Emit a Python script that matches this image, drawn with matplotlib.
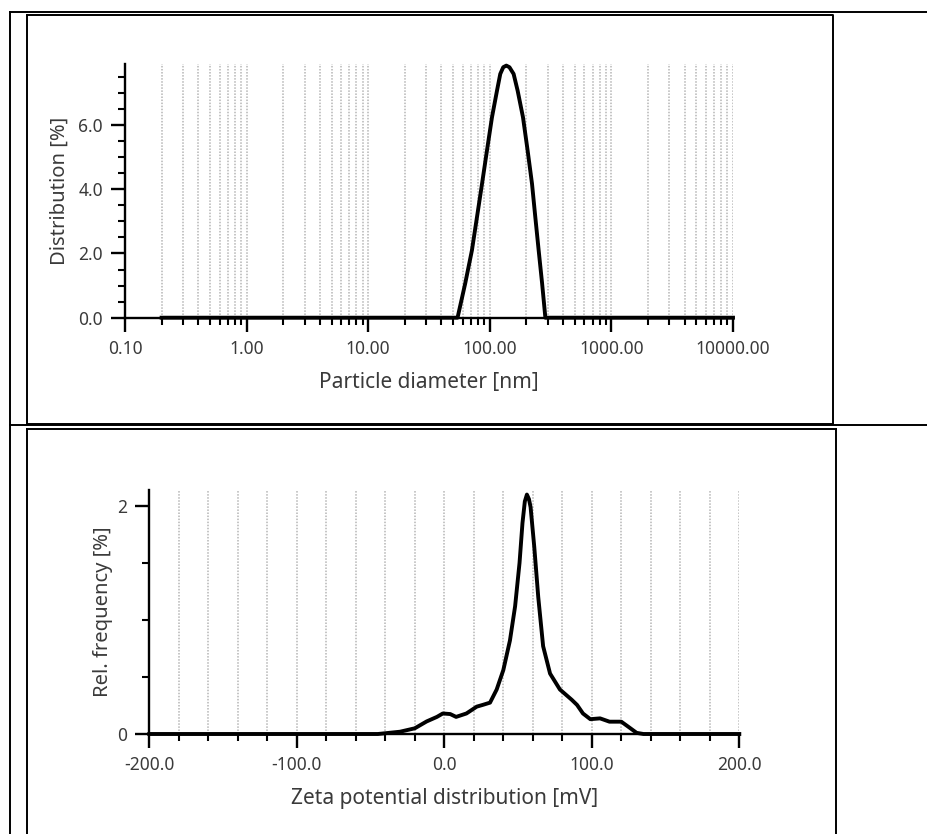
import matplotlib.pyplot as plt
from matplotlib.lines import Line2D
from matplotlib.ticker import FixedLocator, MultipleLocator, FixedFormatter, NullFormatter

plt.rcParams['font.family'] = ['Noto Sans', 'DejaVu Sans']

# particle size distribution
size_nm = [0.2, 54.3, 62.8, 71.3, 78.5, 86.3, 94.8, 104.2, 114.6, 121.9, 129.0,
           136.7, 145.0, 157.0, 169.4, 187.5, 204.6, 222.4, 236.6, 252.2,
           269.2, 286.4, 10000]
distribution = [0, 0, 1.07, 2.10, 3.14, 4.17, 5.21, 6.24, 7.07, 7.59, 7.80,
                7.85, 7.80, 7.59, 7.07, 6.24, 5.21, 4.17, 3.14, 2.10, 1.07, 0, 0]

size_ticks = [0.1, 1, 10, 100, 1000, 10000]
size_labels = ['0.10', '1.00', '10.00', '100.00', '1000.00', '10000.00']
dist_ticks = [0, 2, 4, 6]
dist_labels = ['0.0', '2.0', '4.0', '6.0']

# zeta potential distribution
zeta_mv = [-200, -45, -30, -20, -12, -5, -1, 4, 8, 15, 22, 26, 31, 35.5, 40, 44.5,
           48, 51, 53, 54.6, 56, 57.4, 58.5, 61, 63.7, 67, 71.7, 78.4, 86.4, 90,
           94, 99, 105.6, 112, 120, 124.7, 130.4, 135, 200]
rel_freq = [0, 0, 0.02, 0.05, 0.11, 0.15, 0.18, 0.175, 0.15, 0.18, 0.24, 0.255,
            0.275, 0.39, 0.56, 0.82, 1.12, 1.50, 1.85, 2.04, 2.10, 2.06, 1.99,
            1.64, 1.20, 0.77, 0.53, 0.39, 0.30, 0.255, 0.18, 0.13, 0.137, 0.108,
            0.108, 0.064, 0.01, 0, 0]

zeta_ticks = [-200, -100, 0, 100, 200]
zeta_labels = ['-200.0', '-100.0', '0.0', '100.0', '200.0']
freq_ticks = [0, 2]
freq_labels = ['0', '2']

W, H = 927, 834
fig = plt.figure(figsize=(W / 100, H / 100), dpi=100)
txt = '#3a3a3a'


def px(x0, y0, x1, y1):
    # pixel box (top-left origin) -> figure fraction
    return [x0 / W, 1 - y1 / H, (x1 - x0) / W, (y1 - y0) / H]


def fline(xs, ys, lw=1.4):
    fig.add_artist(Line2D([x / W for x in xs], [1 - y / H for y in ys],
                          color='black', lw=lw, transform=fig.transFigure))


# table borders
fline([10, 927], [12, 12])
fline([10, 10], [12, 834])
fline([10, 927], [425, 425])
fline([27, 833, 833, 27, 27], [15, 15, 424, 424, 15])
fline([836, 836], [834, 429])
fline([27, 836], [429, 429])
fline([27, 27], [429, 834])


def style(ax):
    for s in ['top', 'right']:
        ax.spines[s].set_visible(False)
    for s in ['left', 'bottom']:
        ax.spines[s].set_linewidth(1.7)
        ax.spines[s].set_color('black')
    ax.tick_params(which='major', length=10, width=1.7, color='black',
                   labelsize=12.5, labelcolor=txt, pad=6)
    ax.tick_params(which='minor', length=5, width=1.5, color='black')
    ax.grid(True, which='both', axis='x', color='#b5b5b5', lw=1.1,
            linestyle=(0, (1, 1)))
    ax.set_axisbelow(True)


# top chart
ax1 = fig.add_axes(px(125, 64, 733, 317.7))
ax1.plot(size_nm, distribution, color='black', lw=2.8, clip_on=False,
         zorder=5, solid_joinstyle='round')
ax1.set_xscale('log')
ax1.set_xlim(0.1, 10000)
ax1.set_ylim(0, 7.9)
ax1.xaxis.set_major_locator(FixedLocator(size_ticks))
ax1.xaxis.set_major_formatter(FixedFormatter(size_labels))
ax1.xaxis.set_minor_locator(FixedLocator(
    [m * d for d in [0.1, 1, 10, 100, 1000] for m in range(2, 10)]))
ax1.xaxis.set_minor_formatter(NullFormatter())
ax1.yaxis.set_major_locator(FixedLocator(dist_ticks))
ax1.yaxis.set_major_formatter(FixedFormatter(dist_labels))
ax1.yaxis.set_minor_locator(MultipleLocator(0.5))
style(ax1)
ax1.set_xlabel('Particle diameter [nm]', fontsize=15, color=txt, labelpad=10)
ax1.set_ylabel('Distribution [%]', fontsize=14.5, color=txt, labelpad=6)

# bottom chart
ax2 = fig.add_axes(px(149.3, 490, 739.3, 734))
ax2.plot(zeta_mv, rel_freq, color='black', lw=2.8, clip_on=False,
         zorder=5, solid_joinstyle='round')
ax2.set_xlim(-200, 200)
ax2.set_ylim(0, 2.14)
ax2.xaxis.set_major_locator(FixedLocator(zeta_ticks))
ax2.xaxis.set_major_formatter(FixedFormatter(zeta_labels))
ax2.xaxis.set_minor_locator(MultipleLocator(20))
ax2.yaxis.set_major_locator(FixedLocator(freq_ticks))
ax2.yaxis.set_major_formatter(FixedFormatter(freq_labels))
ax2.yaxis.set_minor_locator(MultipleLocator(0.5))
style(ax2)
ax2.set_xlabel('Zeta potential distribution [mV]', fontsize=15, color=txt, labelpad=10)
ax2.set_ylabel('Rel. frequency [%]', fontsize=14.5, color=txt, labelpad=3)

fig.savefig('out.png', dpi=100)
